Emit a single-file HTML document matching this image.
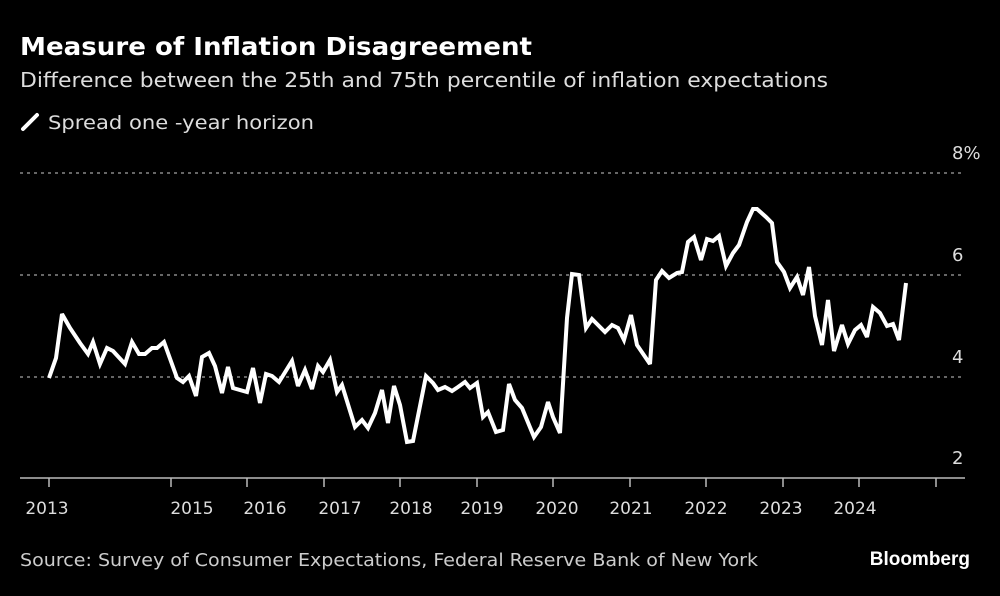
<!DOCTYPE html>
<html><head><style>
body{margin:0;background:#000;width:1000px;height:591px;overflow:hidden;font-family:"Liberation Sans","DejaVu Sans",sans-serif;color:#fff}
</style></head><body>
<svg width="1000" height="591" xmlns="http://www.w3.org/2000/svg">
<rect width="1000" height="591" fill="#000"/>
<text x="20" y="55" font-size="25" font-weight="bold" fill="#fff" font-family="DejaVu Sans, sans-serif" textLength="512" lengthAdjust="spacingAndGlyphs">Measure of Inflation Disagreement</text>
<text x="20" y="87" font-size="20" fill="#ddd" font-family="DejaVu Sans, sans-serif" textLength="808" lengthAdjust="spacingAndGlyphs">Difference between the 25th and 75th percentile of inflation expectations</text>
<line x1="23" y1="129" x2="37" y2="115" stroke="#fff" stroke-width="4" stroke-linecap="round"/>
<text x="48" y="129" font-size="19" fill="#ddd" font-family="DejaVu Sans, sans-serif" textLength="266" lengthAdjust="spacingAndGlyphs">Spread one -year horizon</text>
<g stroke="#888" stroke-width="1.5" stroke-dasharray="3,4">
<line x1="20" y1="173" x2="965" y2="173"/>
<line x1="20" y1="275" x2="965" y2="275"/>
<line x1="20" y1="377" x2="965" y2="377"/>
</g>
<g font-size="18" fill="#ddd" font-family="DejaVu Sans, sans-serif">
<text x="952" y="159">8%</text>
<text x="952" y="261">6</text>
<text x="952" y="363">4</text>
<text x="952" y="464">2</text>
</g>
<line x1="20" y1="478" x2="965" y2="478" stroke="#bbb" stroke-width="1.5"/>
<g stroke="#bbb" stroke-width="1.5">
<line x1="49" y1="478" x2="49" y2="487"/><line x1="171" y1="478" x2="171" y2="487"/><line x1="247" y1="478" x2="247" y2="487"/><line x1="324" y1="478" x2="324" y2="487"/><line x1="400" y1="478" x2="400" y2="487"/><line x1="477" y1="478" x2="477" y2="487"/><line x1="553" y1="478" x2="553" y2="487"/><line x1="630" y1="478" x2="630" y2="487"/><line x1="706" y1="478" x2="706" y2="487"/><line x1="783" y1="478" x2="783" y2="487"/><line x1="859" y1="478" x2="859" y2="487"/><line x1="936" y1="478" x2="936" y2="487"/>
</g>
<g font-size="17" fill="#ddd" text-anchor="middle" font-family="DejaVu Sans, sans-serif">
<text x="47" y="514">2013</text><text x="192" y="514">2015</text><text x="265" y="514">2016</text><text x="340" y="514">2017</text><text x="411" y="514">2018</text><text x="482" y="514">2019</text><text x="557" y="514">2020</text><text x="631" y="514">2021</text><text x="706" y="514">2022</text><text x="781" y="514">2023</text><text x="855" y="514">2024</text>
</g>
<polyline fill="none" stroke="#fff" stroke-width="4" stroke-linejoin="miter" stroke-miterlimit="3" points="49,378 56,358 62,314 70,328 80,343 88,354 93,342 100,364 107,348 113,351 125,364 132,342 139,354 145,354 152,348 157,348 164,342 177,378 183,382 189,376 196,396 202,357 209,353 215,366 222,393 228,367 233,388 247,392 253,368 260,403 266,374 272,376 279,382 292,361 298,386 305,370 312,389 318,366 323,372 330,360 337,392 342,385 355,427 362,420 368,428 375,413 382,390 388,423 394,386 400,405 407,442 413,441 426,376 433,383 438,390 445,387 452,391 458,387 465,382 470,388 477,383 483,417 488,412 496,432 503,430 509,384 515,400 522,408 534,437 541,427 548,402 553,417 560,433 567,318 572,274 579,275 586,328 592,319 598,325 605,332 612,325 618,328 624,340 631,315 637,345 650,364 656,280 662,271 669,278 677,273 682,272 688,242 694,237 701,260 707,239 713,241 719,236 726,266 733,253 739,245 747,222 753,209 757,209 766,217 772,223 777,262 784,272 790,288 797,277 803,295 809,267 815,316 822,345 828,300 834,351 842,325 848,344 855,330 861,325 867,337 873,307 880,313 887,326 893,324 899,340 906,283"/>
<text x="20" y="566" font-size="18" fill="#ccc" font-family="DejaVu Sans, sans-serif" textLength="738" lengthAdjust="spacingAndGlyphs">Source: Survey of Consumer Expectations, Federal Reserve Bank of New York</text>
<text x="970" y="565" font-size="19" font-weight="bold" fill="#fff" text-anchor="end">Bloomberg</text>
</svg>
</body></html>
